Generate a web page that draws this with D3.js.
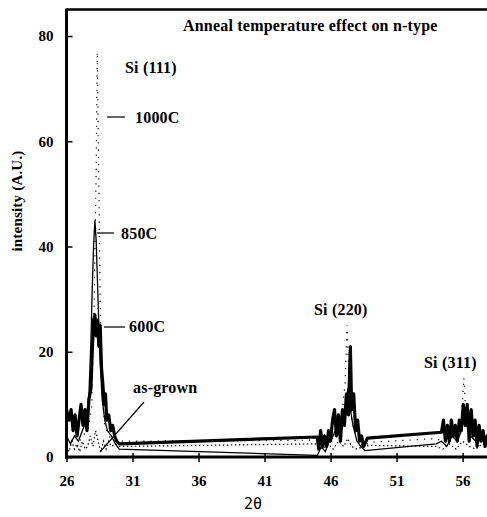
<!DOCTYPE html>
<html lang="en">
<head>
  <meta charset="UTF-8" />
  <title>Anneal temperature effect on n-type</title>
  <script src="https://d3js.org/d3.v7.min.js"></script>
  <style>
    body { margin: 0; background: #fff; }
    svg text { font-family: "Liberation Serif", "Times New Roman", serif; fill: #000; }
    .lbl { font-weight: bold; font-size: 16px; letter-spacing: 0.2px; }
    .tick-lbl { font-weight: bold; font-size: 15px; }
  </style>
</head>
<body>
  <div id="chart"></div>
  <script>
    // Tick values
    const xTicks = [26, 31, 36, 41, 46, 51, 56];
    const yTicks = [0, 20, 40, 60, 80];

    // Series: [2theta, intensity]
    const s600 = [
      [26.0, 9], [26.2, 7], [26.35, 9], [26.5, 5], [26.65, 8], [26.8, 4], [26.95, 7], [27.1, 10],
      [27.25, 6], [27.4, 9], [27.55, 5], [27.7, 11], [27.85, 13], [27.95, 20], [28.05, 26], [28.15, 27],
      [28.25, 23], [28.35, 26], [28.45, 21], [28.55, 25], [28.65, 17], [28.75, 14], [28.85, 10], [28.95, 12],
      [29.05, 7], [29.2, 8], [29.35, 5], [29.5, 6], [29.65, 4], [29.8, 3], [30.0, 2.5],
      [45.0, 3.8], [45.1, 1.5], [45.25, 5], [45.4, 2], [45.55, 4], [45.7, 2], [45.85, 5], [46.0, 3],
      [46.15, 7], [46.3, 9], [46.45, 4], [46.6, 8], [46.75, 3], [46.9, 9], [47.05, 6], [47.2, 12],
      [47.35, 8], [47.5, 21], [47.6, 9], [47.75, 12], [47.9, 5], [48.05, 7], [48.2, 3], [48.35, 4], [48.5, 2],
      [48.8, 3.6], [54.4, 4.7], [54.55, 7], [54.7, 3], [54.85, 6], [55.0, 3], [55.15, 7], [55.3, 4],
      [55.45, 6], [55.6, 3], [55.75, 7], [55.9, 5], [56.05, 10], [56.2, 6], [56.35, 10], [56.5, 3],
      [56.65, 9], [56.8, 4], [56.95, 7], [57.1, 2], [57.25, 6], [57.4, 3], [57.55, 5], [57.7, 2], [57.85, 4], [58.0, 3]
    ];
    const s850 = [
      [26.0, 4], [26.3, 2.5], [26.6, 4], [26.9, 3], [27.2, 5], [27.5, 7], [27.7, 12], [27.85, 22],
      [27.95, 32], [28.05, 40], [28.15, 45], [28.25, 41], [28.35, 33], [28.45, 25], [28.55, 18],
      [28.7, 11], [28.9, 7], [29.1, 5], [29.4, 4], [29.7, 2.5], [30.0, 1.5],
      [45.0, 0.3], [45.3, 2], [45.6, 1], [45.9, 3], [46.2, 4], [46.5, 6], [46.8, 5], [47.1, 8],
      [47.3, 13], [47.5, 9], [47.7, 6], [48.0, 3], [48.3, 2], [48.6, 1.2],
      [54.0, 2.5], [54.4, 3], [54.8, 2], [55.2, 4], [55.6, 3], [55.9, 5], [56.1, 8], [56.3, 6],
      [56.6, 4], [57.0, 3], [57.4, 4], [57.8, 2.5], [58.0, 3]
    ];
    const s1000 = [
      [26.0, 2], [26.4, 3], [26.8, 2], [27.2, 4], [27.6, 5], [27.9, 9], [28.1, 30], [28.25, 55],
      [28.33, 77], [28.42, 58], [28.55, 30], [28.7, 12], [28.9, 6], [29.2, 4], [29.6, 3], [30.0, 3],
      [45.0, 3.2], [45.5, 2], [46.0, 3], [46.5, 5], [46.9, 9], [47.1, 14], [47.25, 25], [47.4, 15],
      [47.6, 7], [48.0, 3], [48.5, 2], [49.0, 2.8],
      [54.0, 3.5], [54.5, 3], [55.0, 4], [55.5, 4], [55.9, 7], [56.1, 15], [56.25, 8], [56.6, 4],
      [57.0, 3], [57.5, 4], [58.0, 3]
    ];
    const sAsGrown = [
      [26.0, 2], [26.2, 1], [26.4, 3], [26.6, 1.5], [26.8, 2.5], [27.0, 1], [27.2, 3], [27.4, 1.5],
      [27.6, 2], [27.8, 4], [28.0, 2], [28.2, 5], [28.4, 3], [28.6, 1], [28.8, 3], [29.0, 1.5],
      [29.2, 3], [29.4, 2], [29.7, 2.5], [30.0, 2],
      [45.0, 2.5], [45.4, 1.5], [45.8, 2.5], [46.2, 1.5], [46.6, 3], [47.0, 2], [47.3, 3.5], [47.6, 2],
      [48.0, 1.5], [48.5, 2], [49.0, 2.2],
      [54.0, 2], [54.5, 1.5], [55.0, 2.5], [55.5, 1.5], [56.0, 3], [56.5, 2], [57.0, 1.5], [57.5, 2.5], [58.0, 2]
    ];

    const width = 487, height = 517;
    const x = d3.scaleLinear().domain([26, 58]).range([66.5, 489]);
    const y = d3.scaleLinear().domain([0, 85]).range([457, 9.7]);

    const svg = d3.select("#chart").append("svg")
      .attr("width", width).attr("height", height);

    const line = d3.line().x(d => x(d[0])).y(d => y(d[1]));

    // curves
    svg.append("path").datum(sAsGrown).attr("d", line)
      .attr("fill", "none").attr("stroke", "#000").attr("stroke-width", 1.2)
      .attr("stroke-dasharray", "1.5,2.5");
    svg.append("path").datum(s1000).attr("d", line)
      .attr("fill", "none").attr("stroke", "#000").attr("stroke-width", 1.2)
      .attr("stroke-dasharray", "1.2,6");
    svg.append("path").datum(s850).attr("d", line)
      .attr("fill", "none").attr("stroke", "#000").attr("stroke-width", 1.3);
    svg.append("path").datum(s600).attr("d", line)
      .attr("fill", "none").attr("stroke", "#000").attr("stroke-width", 3.2)
      .attr("stroke-linejoin", "round");

    // frame
    svg.append("line").attr("x1", 66.5).attr("x2", 487).attr("y1", 9.5).attr("y2", 9.5)
      .attr("stroke", "#000").attr("stroke-width", 2.5);

    // axes
    const xAxis = svg.append("g").attr("transform", "translate(0,457)")
      .call(d3.axisBottom(x).tickValues(xTicks).tickSize(5).tickFormat(d3.format("d")));
    xAxis.select(".domain").remove();
    xAxis.selectAll(".tick line").attr("y1", -4).attr("stroke-width", 1.5);
    xAxis.selectAll(".tick text").attr("class", "tick-lbl").attr("dy", "1.4em");
    xAxis.attr("font-family", null).attr("font-size", null);

    const yAxis = svg.append("g").attr("transform", "translate(66.5,0)")
      .call(d3.axisLeft(y).tickValues(yTicks).tickSize(5));
    yAxis.select(".domain").remove();
    yAxis.selectAll(".tick line").attr("x2", 6).attr("stroke-width", 1.5);
    yAxis.selectAll(".tick text").attr("class", "tick-lbl").attr("x", -13);
    yAxis.attr("font-family", null).attr("font-size", null);

    svg.append("line").attr("x1", 66.5).attr("x2", 66.5).attr("y1", 8.5).attr("y2", 458.5)
      .attr("stroke", "#000").attr("stroke-width", 3);
    svg.append("line").attr("x1", 65).attr("x2", 487).attr("y1", 457).attr("y2", 457)
      .attr("stroke", "#000").attr("stroke-width", 3);

    // axis titles
    svg.append("text").attr("class", "lbl")
      .attr("transform", "translate(22,201) rotate(-90)")
      .attr("text-anchor", "middle").style("font-size", "15px").text("intensity (A.U.)");
    svg.append("text").attr("x", 253).attr("y", 509).attr("text-anchor", "middle")
      .style("font-size", "15px").style("font-family", "'DejaVu Sans Mono', monospace")
      .text("2θ");

    svg.append("text").attr("class", "lbl").attr("x", 183).attr("y", 31)
      .text("Anneal temperature effect on n-type");

    // annotations
    const ann = [
      { t: "Si (111)", x: 125, y: 73 },
      { t: "1000C", x: 135, y: 123 },
      { t: "850C", x: 121, y: 239 },
      { t: "600C", x: 129, y: 332 },
      { t: "as-grown", x: 133, y: 393 },
      { t: "Si (220)", x: 314, y: 315 },
      { t: "Si (311)", x: 424, y: 368 }
    ];
    svg.selectAll(".ann").data(ann).enter().append("text")
      .attr("class", "lbl").attr("x", d => d.x).attr("y", d => d.y).text(d => d.t);

    const leaders = [
      [107, 117, 125, 117], [97, 233, 114, 233], [104, 327, 125, 327], [144, 402, 100, 452]
    ];
    svg.selectAll(".ldr").data(leaders).enter().append("line")
      .attr("x1", d => d[0]).attr("y1", d => d[1]).attr("x2", d => d[2]).attr("y2", d => d[3])
      .attr("stroke", "#000").attr("stroke-width", 1.2);
  </script>
</body>
</html>
